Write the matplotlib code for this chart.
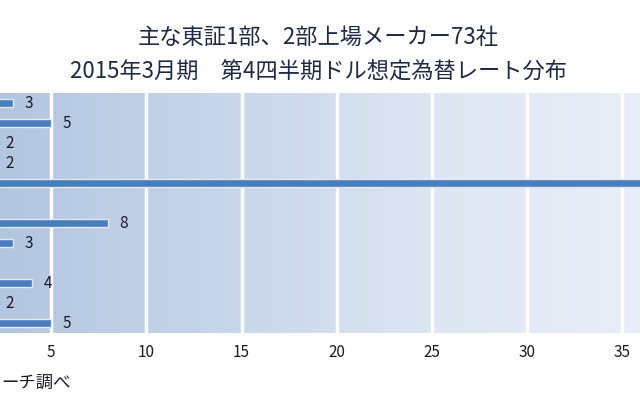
import matplotlib
matplotlib.use("Agg")
import matplotlib.pyplot as plt
import numpy as np
from matplotlib.colors import LinearSegmentedColormap

plt.rcParams['font.family'] = ['Noto Sans CJK JP', 'DejaVu Sans']

# Data (top to bottom); category labels lie outside the cropped view
categories = ["121円以上", "120円", "119円", "118円", "115円", "114円",
              "110円", "108円", "107円", "105円", "103円", "100円以下"]
values = [3, 5, 2, 2, 37, 1, 8, 3, 1, 4, 2, 5]
grid_x = [5, 10, 15, 20, 25, 30, 35]
xticks = [5, 10, 15, 20, 25, 30, 35]
title_lines = ["主な東証1部、2部上場メーカー73社",
               "2015年3月期　第4四半期ドル想定為替レート分布"]
source_text = "ーチ調べ"

W, H = 640, 400
fig = plt.figure(figsize=(W / 100, H / 100), dpi=100)
fig.patch.set_facecolor("white")

# Axes extends beyond the left/right figure edges (cropped look)
x0_px = -44.0
unit_px = 19.04
xmax = 40
left = x0_px / W
width = (xmax * unit_px) / W
ax = fig.add_axes([left, (H - 333) / H, width, 240 / H])

n = len(categories)
ypos = np.arange(n)
ax.set_xlim(0, xmax)
ax.set_ylim(n - 0.5, -0.5)

# gradient background
cmap = LinearSegmentedColormap.from_list("bg", ["#afc3de", "#c6d5e9", "#e0e8f4", "#edf1f9"])
grad = np.linspace(0, 1, 256).reshape(1, -1)
ax.imshow(grad, extent=[0, xmax, n - 0.5, -0.5], aspect="auto", cmap=cmap, zorder=0)

for xv in grid_x:
    ax.axvline(xv, color="white", lw=2.5, zorder=1)

ax.barh(ypos, values, height=0.42, color="#4a7ebb", edgecolor="#dfe8f4",
        linewidth=1.0, zorder=2)

# value labels (only those that fall inside the visible, cropped area)
for y, v in zip(ypos, values):
    px = x0_px + v * unit_px
    if 0 < px + 8 < W - 20:
        ax.annotate(str(v), xy=(v, y), xytext=(8, 0), textcoords="offset points",
                    ha="left", va="center", fontsize=11, color="#1a1a2a", zorder=3)

ax.set_yticks([])
ax.set_xticks(xticks)
ax.set_xticklabels([str(t) for t in xticks], fontsize=11, color="#1a1a2a")
ax.tick_params(axis="x", length=0, pad=8)
for s in ax.spines.values():
    s.set_visible(False)

fig.text(0.497, 1 - 37 / H, title_lines[0], ha="center", va="center",
         fontsize=16, color="#1c2a44")
fig.text(0.497, 1 - 71 / H, title_lines[1], ha="center", va="center",
         fontsize=16, color="#1c2a44")
fig.text(1 / W, 1 - 383 / H, source_text, ha="left", va="center",
         fontsize=12.5, color="#1a1a2a")

fig.savefig("out.png", dpi=100)
